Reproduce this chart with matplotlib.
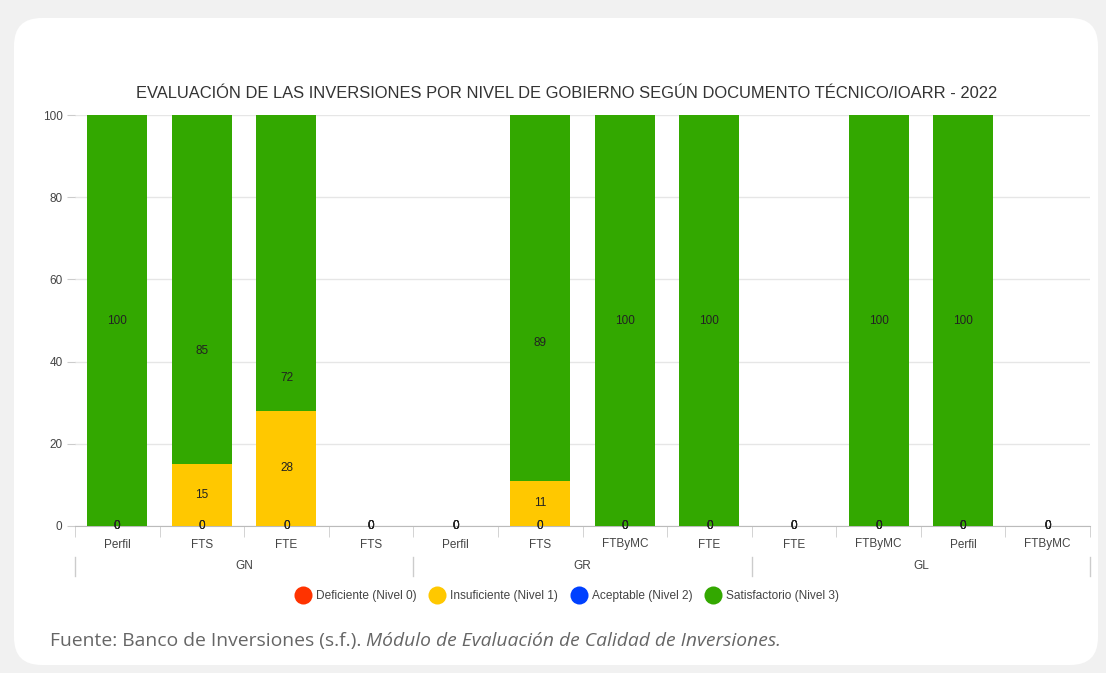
import matplotlib
matplotlib.use('Agg')
import matplotlib.pyplot as plt
from matplotlib.lines import Line2D
from matplotlib.patches import FancyBboxPatch
import numpy as np

plt.rcParams['font.family'] = ['Liberation Sans', 'DejaVu Sans']

# datos
categorias = ['Perfil', 'FTS', 'FTE', 'FTS',
              'Perfil', 'FTS', 'FTByMC', 'FTE',
              'FTE', 'FTByMC', 'Perfil', 'FTByMC']
grupos = ['GN', 'GR', 'GL']
tam_grupo = [4, 4, 4]

deficiente = [0, 0, 0, 0, 0, 0, 0, 0, 0, 0, 0, 0]
insuficiente = [0, 15, 28, 0, 0, 11, 0, 0, 0, 0, 0, 0]
aceptable = [0, 0, 0, 0, 0, 0, 0, 0, 0, 0, 0, 0]
satisfactorio = [100, 85, 72, 0, 0, 89, 100, 100, 0, 100, 100, 0]

series = [
    ('Deficiente (Nivel 0)', deficiente, '#ff3300'),
    ('Insuficiente (Nivel 1)', insuficiente, '#ffc800'),
    ('Aceptable (Nivel 2)', aceptable, '#0040ff'),
    ('Satisfactorio (Nivel 3)', satisfactorio, '#33a800'),
]

titulo = 'EVALUACIÓN DE LAS INVERSIONES POR NIVEL DE GOBIERNO SEGÚN DOCUMENTO TÉCNICO/IOARR - 2022'


def run():
    fig = plt.figure(figsize=(11.06, 6.73), dpi=100)
    fig.patch.set_facecolor('#f1f1f1')
    card = FancyBboxPatch((14 / 1106, 8 / 673), 1084 / 1106, 647 / 673,
                          boxstyle='round,pad=0,rounding_size=0.025',
                          transform=fig.transFigure, facecolor='white',
                          edgecolor='none', zorder=-10,
                          mutation_aspect=1106 / 673)
    fig.patches.append(card)

    ax = fig.add_axes([75 / 1106, 1 - 526 / 673, 1015 / 1106, 411 / 673])
    ax.set_facecolor('none')
    x = np.arange(len(categorias))
    base = np.zeros(len(categorias))
    for nombre, vals, color in series:
        vals = np.array(vals, dtype=float)
        ax.bar(x, vals, bottom=base, width=0.71, color=color, zorder=3)
        # la etiqueta va a la mitad del valor propio (como en el original)
        for i, v in enumerate(vals):
            ax.text(i, v / 2, '%d' % v, ha='center', va='center',
                    fontsize=8.5, color='#222222', zorder=5)
        base = base + vals

    ax.set_xlim(-0.5, len(categorias) - 0.5)
    ax.set_ylim(0, 100)
    ax.set_yticks([0, 20, 40, 60, 80, 100])
    ax.grid(axis='y', color='#e6e6e6', linewidth=1, zorder=0)
    ax.tick_params(axis='y', length=6, color='#cccccc', labelsize=8.5,
                   labelcolor='#444444', pad=3)
    ax.set_xticks(x)
    ax.set_xticklabels(categorias)
    ax.tick_params(axis='x', length=0, labelsize=8.5, labelcolor='#444444', pad=9)
    ax.set_xticks(np.arange(-0.5, len(categorias) + 0.5, 1), minor=True)
    ax.tick_params(axis='x', which='minor', length=8, color='#cccccc')
    for s in ['top', 'right', 'left']:
        ax.spines[s].set_visible(False)
    ax.spines['bottom'].set_color('#bbbbbb')

    # separadores y etiquetas de grupos
    trans = ax.get_xaxis_transform()
    inicio = -0.5
    ax.plot([inicio, inicio], [-0.075, -0.122], color='#cccccc', lw=1,
            transform=trans, clip_on=False)
    for g, n in zip(grupos, tam_grupo):
        fin = inicio + n
        ax.plot([fin, fin], [-0.075, -0.122], color='#cccccc', lw=1,
                transform=trans, clip_on=False)
        ax.text((inicio + fin) / 2, -0.098, g, transform=trans, ha='center',
                va='center', fontsize=8.5, color='#444444')
        inicio = fin

    fig.text(567 / 1106, 1 - 93 / 673, titulo, ha='center', va='center',
             fontsize=11.85, color='#333333')

    handles = [Line2D([], [], marker='o', linestyle='none', markersize=13,
                      markerfacecolor=c, markeredgecolor='none')
               for _, _, c in series]
    fig.legend(handles, [s[0] for s in series], loc='center',
               bbox_to_anchor=(565 / 1106, 1 - 596 / 673), ncol=4,
               frameon=False, fontsize=8.6, handletextpad=0.1,
               columnspacing=0.7, labelcolor='#444444')

    fuente = fig.text(50 / 1106, 1 - 641 / 673, 'Fuente: Banco de Inversiones (s.f.). ',
                      ha='left', va='center', fontsize=13.9, color='#666666',
                      family=['Open Sans', 'DejaVu Sans'])
    fig.canvas.draw()
    bb = fuente.get_window_extent()
    fig.text(bb.x1 / 1106, 1 - 641 / 673,
             'Módulo de Evaluación de Calidad de Inversiones.',
             ha='left', va='center', fontsize=13.9, color='#666666',
             style='italic', family=['Open Sans', 'DejaVu Sans'])

    fig.savefig('out.png', dpi=100, facecolor=fig.get_facecolor())


if __name__ == '__main__':
    run()
